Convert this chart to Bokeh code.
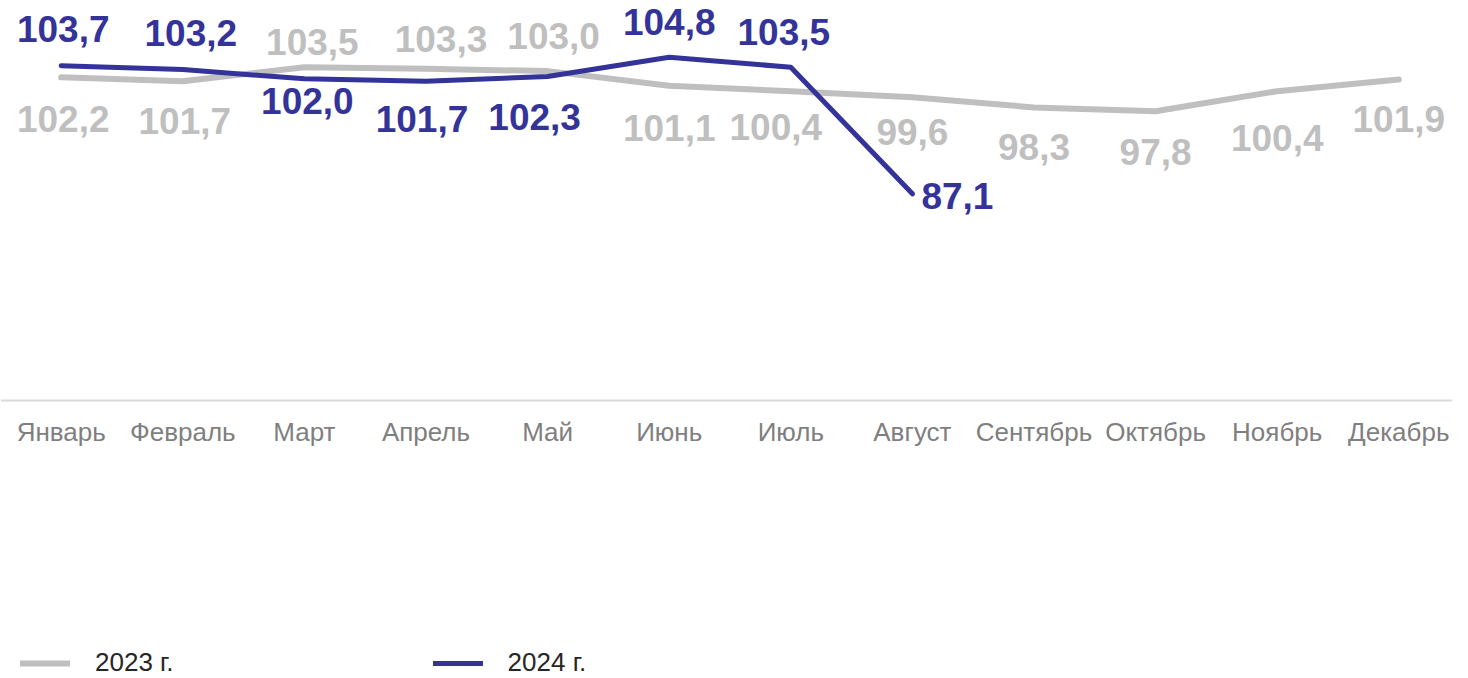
from bokeh.plotting import figure
from bokeh.models import ColumnDataSource, Range1d, FixedTicker, Legend, LegendItem
from bokeh.core.properties import value
from bokeh.embed import file_html
from bokeh.resources import INLINE

# ---- data ----
months = ["Январь", "Февраль", "Март", "Апрель", "Май", "Июнь",
          "Июль", "Август", "Сентябрь", "Октябрь", "Ноябрь", "Декабрь"]
vals_2023 = [102.2, 101.7, 103.5, 103.3, 103.0, 101.1, 100.4, 99.6, 98.3, 97.8, 100.4, 101.9]
vals_2024 = [103.7, 103.2, 102.0, 101.7, 102.3, 104.8, 103.5, 87.1]
series_names = ["2023 г.", "2024 г."]

# ---- axis extent (value axis baseline and top) ----
y_base = 60.32
y_top = 112.15

# ---- label layout (screen px offsets, not data) ----
dx_2023 = [2, 2, 8, 15, 6, 0, -15, 0, 0, 0, 0, 0]
dy_2023 = [42, 40, -25, -30, -35, 42, 36, 35, 40, 41, 47, 39]
dx_2024 = [2, 8, 3, -4, -13, 0, -7, 45]
dy_2024 = [-37, -37, 22, 38, 40, -35, -35, 2]

GREY = "#bfbfbf"
BLUE = "#333399"
FONT = "Liberation Sans"

W, H = 1452, 678
PX_PER_UNIT = 400 / (y_top - y_base)


def fmt(v):
    return f"{v:.1f}".replace(".", ",")


x23 = list(range(len(vals_2023)))
x24 = list(range(len(vals_2024)))

src23 = ColumnDataSource(dict(x=x23, y=vals_2023, t=[fmt(v) for v in vals_2023],
                              dx=dx_2023, dy=dy_2023))
src24 = ColumnDataSource(dict(x=x24, y=vals_2024, t=[fmt(v) for v in vals_2024],
                              dx=dx_2024, dy=dy_2024))

x_start = -0.4992
x_end = x_start + W / 121.6
y_bottom = y_top - H / PX_PER_UNIT

p = figure(width=W, height=H,
           x_range=Range1d(x_start, x_end), y_range=Range1d(y_bottom, y_top),
           output_backend="svg", toolbar_location=None,
           y_axis_location=None, x_axis_location="below",
           min_border_left=0, min_border_right=0, min_border_top=0,
           min_border_bottom=0, outline_line_color=None,
           background_fill_color="white", border_fill_color="white")
p.xgrid.visible = False
p.ygrid.visible = False

ax = p.xaxis[0]
ax.fixed_location = y_base
ax.ticker = FixedTicker(ticks=x23)
ax.major_label_overrides = {i: m for i, m in enumerate(months)}
ax.major_tick_line_color = None
ax.minor_tick_line_color = None
ax.axis_line_color = "#d9d9d9"
ax.axis_line_width = 2
ax.major_label_text_font = FONT
ax.major_label_text_font_size = "26px"
ax.major_label_text_color = "#7f7f7f"
ax.major_label_standoff = 10

r23 = p.line("x", "y", source=src23, line_color=GREY, line_width=6,
             line_cap="round", line_join="round")
r24 = p.line("x", "y", source=src24, line_color=BLUE, line_width=5,
             line_cap="round", line_join="round")

p.text("x", "y", text="t", source=src23, x_offset="dx", y_offset="dy",
       text_font=value(FONT), text_font_style="bold", text_font_size="37px",
       text_color=GREY, text_align="center", text_baseline="middle")
p.text("x", "y", text="t", source=src24, x_offset="dx", y_offset="dy",
       text_font=value(FONT), text_font_style="bold", text_font_size="37px",
       text_color=BLUE, text_align="center", text_baseline="middle")

legend = Legend(items=[LegendItem(label=series_names[0], renderers=[r23]),
                       LegendItem(label=series_names[1], renderers=[r24])],
                orientation="horizontal", location=(20, 0),
                glyph_width=50, glyph_height=20, label_height=20,
                label_standoff=25, spacing=259, padding=0, margin=0,
                border_line_color=None, background_fill_alpha=0,
                label_text_font=FONT, label_text_font_size="26px",
                label_text_color="#262626")
p.add_layout(legend, "center")

open("out.html", "w").write(file_html(p, INLINE))
